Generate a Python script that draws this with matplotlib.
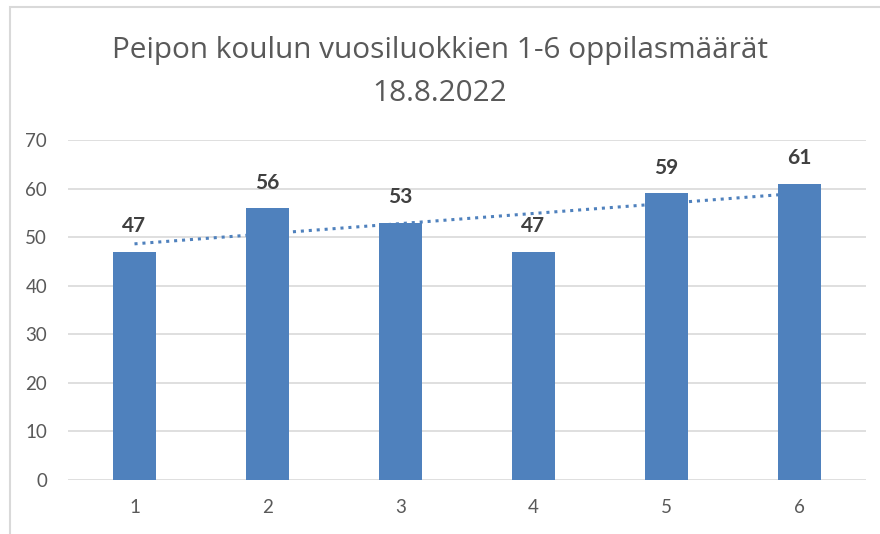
import matplotlib
matplotlib.use("Agg")
import matplotlib.pyplot as plt
from matplotlib.patches import Rectangle
import numpy as np

categories = ["1", "2", "3", "4", "5", "6"]
values = [47, 56, 53, 47, 59, 61]
yticks = [0, 10, 20, 30, 40, 50, 60, 70]
title_lines = ["Peipon koulun vuosiluokkien 1-6 oppilasmäärät", "18.8.2022"]

plt.rcParams['font.family'] = ['Lato', 'DejaVu Sans']

fig = plt.figure(figsize=(8.8, 5.34), dpi=100)
fig.patch.set_facecolor("white")
ax = fig.add_axes([68/880, 1-480/534, (866-68)/880, (480-140)/534])

x = np.arange(1, len(values) + 1)
bar_color = "#4F81BD"
ax.bar(x, values, width=0.32, color=bar_color, zorder=3)

# linear trendline
coef = np.polyfit(x, values, 1)
tx = np.array([x[0], x[-1]])
ax.plot(tx, np.polyval(coef, tx), linestyle=(0, (1, 1.6)), color=bar_color, lw=2.2, zorder=4)

for xi, v in zip(x, values):
    ax.text(xi, v + 4.0, str(v), ha="center", va="baseline", fontsize=15,
            fontweight="bold", color="#404040", zorder=5)

ax.set_xlim(0.5, len(values) + 0.5)
ax.set_ylim(0, 70)
ax.set_yticks(yticks)
ax.set_xticks(x)
ax.set_xticklabels(categories)
ax.yaxis.grid(True, color="#D9D9D9", lw=1.2, zorder=0)
ax.set_axisbelow(True)
for s in ax.spines.values():
    s.set_visible(False)
ax.tick_params(axis="both", length=0, labelsize=13.5, labelcolor="#595959")
ax.tick_params(axis="y", pad=15)
ax.tick_params(axis="x", pad=14)

fig.text(0.5, 1-58/534, title_lines[0], ha="center", va="baseline", fontsize=21.4,
         color="#595959", family=["Open Sans", "DejaVu Sans"])
fig.text(0.5, 1-101/534, title_lines[1], ha="center", va="baseline", fontsize=21.4,
         color="#595959", family=["Open Sans", "DejaVu Sans"])

# chart border (partially visible)
fig.patches.append(Rectangle((10/880, -0.05), 1.0, 1-7/534+0.05, transform=fig.transFigure,
                             fill=False, edgecolor="#D9D9D9", lw=1.5, zorder=0))

fig.savefig("out.png", dpi=100, facecolor="white")
